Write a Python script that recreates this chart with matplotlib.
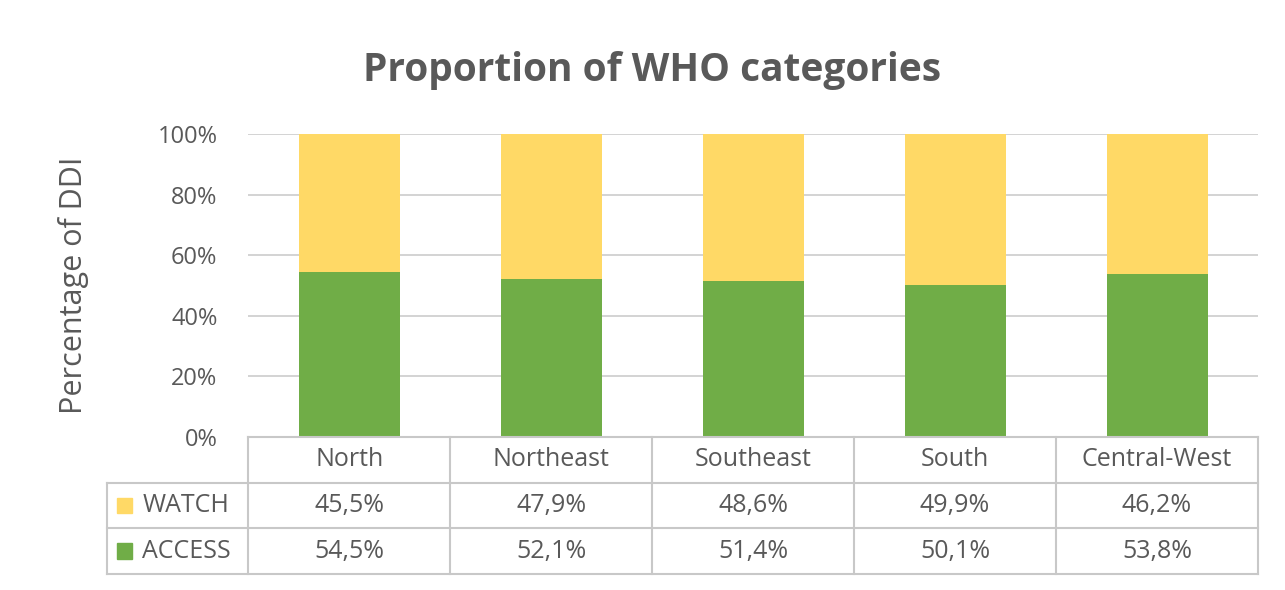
import matplotlib.pyplot as plt
import numpy as np

regions = ["North", "Northeast", "Southeast", "South", "Central-West"]
watch = [45.5, 47.9, 48.6, 49.9, 46.2]
access = [54.5, 52.1, 51.4, 50.1, 53.8]
yticks = [0, 20, 40, 60, 80, 100]

green = "#70AD47"
yellow = "#FFD966"
txt = "#595959"
gridc = "#D0D0D0"

plt.rcParams['font.family'] = ['Open Sans', 'DejaVu Sans']

W, H = 1285, 590
fig = plt.figure(figsize=(W / 100, H / 100), dpi=100)

def box(x0, y0, x1, y1):
    return [x0 / W, 1 - y1 / H, (x1 - x0) / W, (y1 - y0) / H]

# main chart
ax = fig.add_axes(box(248, 134, 1258, 437))
x = np.arange(len(regions))
ax.bar(x, access, width=0.5, color=green, zorder=3)
ax.bar(x, watch, width=0.5, bottom=access, color=yellow, zorder=3)
ax.set_xlim(-0.5, len(regions) - 0.5)
ax.set_ylim(0, 100)
ax.set_yticks(yticks)
ax.set_yticklabels([f"{t}%" for t in yticks], color=txt, fontsize=17)
ax.tick_params(axis='y', length=0, pad=22)
ax.set_xticks([])
for s in ax.spines.values():
    s.set_visible(False)
ax.yaxis.grid(True, color=gridc, lw=1.3, zorder=0)
ax.set_ylabel("Percentage of DDI", color=txt, fontsize=22)
# ylabel anchored at its right edge (va='bottom' of rotated text)
ax.yaxis.set_label_coords(89 / W, 1 - 285 / H, transform=fig.transFigure)

fig.text(652 / W, 1 - 70 / H, "Proportion of WHO categories", ha='center', va='center',
         fontsize=28, fontweight='bold', color=txt)

# data table
tab = fig.add_axes(box(107, 437, 1258, 574))
tab.set_xlim(-1.2, len(regions) - 0.5)
tab.set_ylim(0, 3)
tab.axis('off')
lc = "#C8C8C8"
for yy in [0, 1, 2]:
    tab.plot([-1.2, len(regions) - 0.5], [yy, yy], color=lc, lw=1.5, clip_on=False)
tab.plot([-0.5, len(regions) - 0.5], [3, 3], color=lc, lw=1.5, clip_on=False)
tab.plot([-1.2, -1.2], [0, 2], color=lc, lw=1.5, clip_on=False)
for xx in np.arange(len(regions) + 1) - 0.5:
    tab.plot([xx, xx], [0, 3], color=lc, lw=1.5, clip_on=False)

for i, r in enumerate(regions):
    tab.text(i, 2.5, r, ha='center', va='center', fontsize=18, color=txt)
    tab.text(i, 1.5, f"{watch[i]:.1f}%".replace('.', ','), ha='center', va='center',
             fontsize=18, color=txt)
    tab.text(i, 0.5, f"{access[i]:.1f}%".replace('.', ','), ha='center', va='center',
             fontsize=18, color=txt)

for yy, lab, c in [(1.5, "WATCH", yellow), (0.5, "ACCESS", green)]:
    tab.add_patch(plt.Rectangle((-1.15, yy - 0.17), 0.075, 0.34, color=c, clip_on=False))
    tab.text(-1.025, yy, lab, ha='left', va='center', fontsize=18, color=txt)

fig.savefig("out.png", dpi=100)
